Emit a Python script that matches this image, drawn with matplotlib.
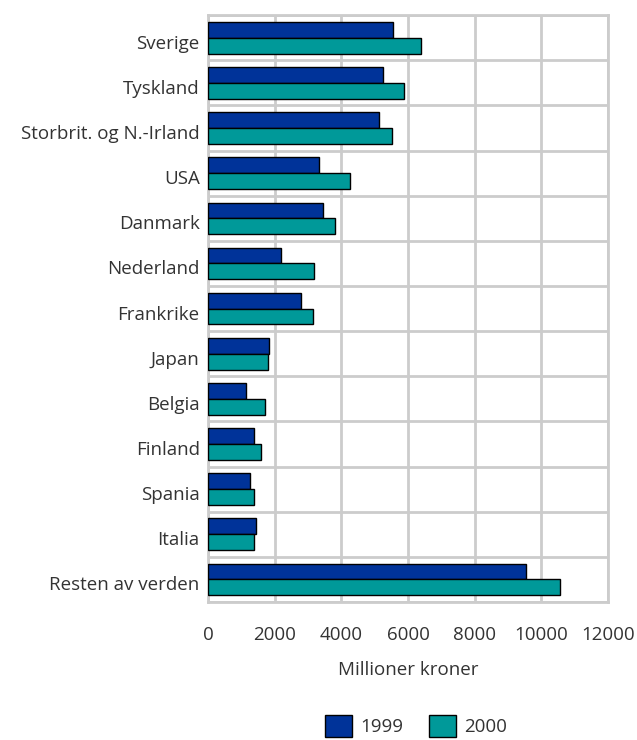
import numpy as np
import matplotlib.pyplot as plt
import matplotlib.transforms as mtransforms
from matplotlib.patches import Patch

countries = ['Sverige', 'Tyskland', 'Storbrit. og N.-Irland', 'USA', 'Danmark',
             'Nederland', 'Frankrike', 'Japan', 'Belgia', 'Finland', 'Spania',
             'Italia', 'Resten av verden']
v1999 = [5560, 5260, 5140, 3320, 3460, 2200, 2800, 1830, 1140, 1390, 1260, 1440, 9530]
v2000 = [6400, 5870, 5530, 4260, 3810, 3180, 3150, 1800, 1700, 1600, 1380, 1370, 10550]
years = ['1999', '2000']
colors = ['#003399', '#009999']

plt.rcParams['font.family'] = ['Open Sans', 'DejaVu Sans']
fs = 13.5
txt = '#333333'

fig = plt.figure(figsize=(6.37, 7.40), dpi=100)
ax = fig.add_axes([0.3265, 0.1865, 0.628, 0.793])

y = np.arange(len(countries))
h = 0.35
ax.barh(y - h / 2, v1999, height=h, color=colors[0], edgecolor='black', linewidth=1, zorder=3)
ax.barh(y + h / 2, v2000, height=h, color=colors[1], edgecolor='black', linewidth=1, zorder=3)

ax.set_xlim(0, 12000)
ax.set_ylim(len(countries) - 0.5, -0.5)
ax.set_xticks(np.arange(0, 12001, 2000))
ax.set_yticks(y)
ax.set_yticklabels(countries)
ax.set_yticks(np.arange(-0.5, len(countries), 1), minor=True)
ax.grid(True, axis='x', which='major', color='#cccccc', linewidth=2, zorder=0)
ax.grid(True, axis='y', which='minor', color='#cccccc', linewidth=2, zorder=0)
for s in ax.spines.values():
    s.set_color('#cccccc')
    s.set_linewidth(2)
ax.tick_params(axis='both', which='both', length=0, labelsize=fs, colors=txt)
ax.tick_params(axis='x', pad=17)
ax.tick_params(axis='y', pad=6)
# nudge category labels slightly down, like the original
off = mtransforms.ScaledTranslation(0, -4 / 100, fig.dpi_scale_trans)
for lab in ax.get_yticklabels():
    lab.set_transform(lab.get_transform() + off)
ax.set_xlabel('Millioner kroner', fontsize=fs, labelpad=12.5, color=txt)

handles = [Patch(facecolor=c, edgecolor='black', label=l) for c, l in zip(colors, years)]
leg = fig.legend(handles=handles, loc='center', bbox_to_anchor=(0.653, 0.019), ncol=2,
                 frameon=False, fontsize=fs, handlelength=1.42, handleheight=1.5,
                 columnspacing=1.4, handletextpad=0.43, borderpad=0)
for t in leg.get_texts():
    t.set_color(txt)

fig.savefig('out.png', dpi=100)
